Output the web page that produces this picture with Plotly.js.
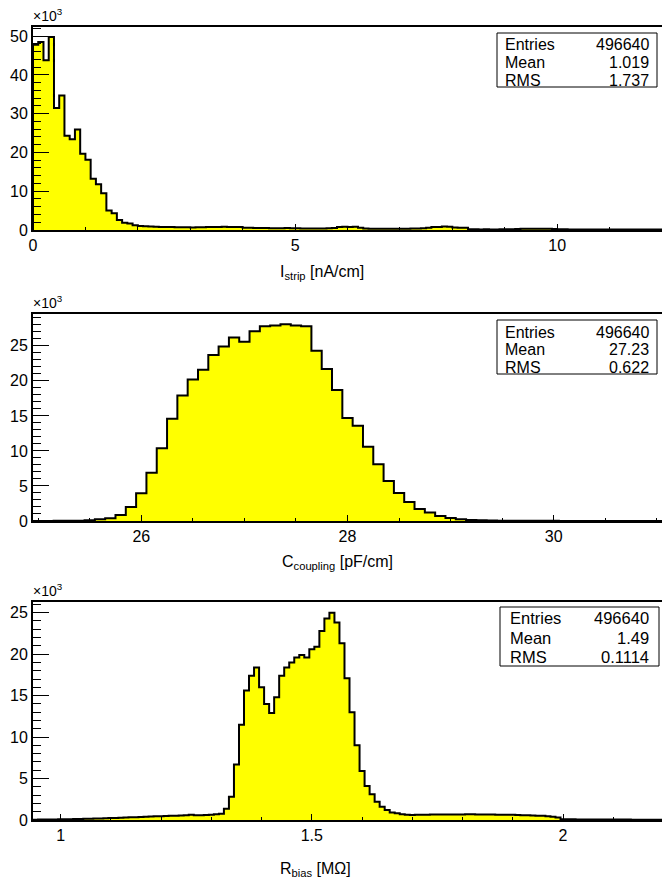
<!DOCTYPE html>
<html><head><meta charset="utf-8">
<script src="https://cdn.plot.ly/plotly-3.0.1.min.js"></script>
<style>html,body{margin:0;padding:0;background:#fff}</style>
</head><body><div id="chart" style="width:662px;height:882px"></div>
<script>
// ---------- DATA (counts in units of 10^3) ----------
const istripLow = 0, istripBinWidth = 0.1;
const istripCountsK = [
  47.8,48.5,43.8,49.8,31.5,34.7,24.3,23.4,25.9,19.7,
  18.1,13.2,11.8,9.5,5.0,4.3,2.6,1.9,1.7,1.2,
  1.0,0.95,0.9,0.85,0.8,0.75,0.75,0.7,0.7,0.7,
  0.65,0.7,0.7,0.75,0.8,0.8,0.85,0.8,0.8,0.75,
  0.6,0.55,0.5,0.5,0.5,0.45,0.45,0.45,0.5,0.45,
  0.45,0.4,0.4,0.4,0.4,0.4,0.45,0.5,0.8,0.85,
  0.75,0.85,0.6,0.4,0.35,0.3,0.3,0.35,0.3,0.3,
  0.35,0.35,0.4,0.4,0.45,0.55,0.75,0.8,0.9,0.85,
  0.65,0.6,0.55,0.2,0.2,0.15,0.2,0.15,0.15,0.2,
  0.2,0.2,0.25,0.3,0.3,0.35,0.35,0.3,0.3,0.25,
  0.2,0.2,0.15,0.15,0.15,0.12,0.12,0.12,0.1,0.1,
  0.1,0.1,0.1,0.1,0.1,0.1,0.1,0.1,0.1,0.1
];
const ccoupLow = 24.95, ccoupBinWidth = 0.1;
const ccoupCountsK = [
  0.01,0.01,0.02,0.03,0.05,0.10,0.24,0.40,0.86,2.0,
  3.95,6.9,10.4,14.6,17.9,20.2,21.6,23.7,24.9,26.2,
  25.6,27.1,27.8,27.9,28.1,27.9,27.8,24.3,21.7,18.7,
  14.7,13.6,10.6,8.1,5.7,4.0,2.7,1.7,1.2,0.7,
  0.43,0.24,0.14,0.09,0.06,0.05,0.04,0.03,0.03,0.02,
  0.02,0.01,0.01,0.01,0.01,0.01,0.01,0.01,0.01,0.01,0.01
];
const rbiasLow = 0.945, rbiasBinWidth = 0.01;
const rbiasCountsK = [
  0.04,0.05,0.05,0.06,0.07,
  0.08,0.09,0.10,0.11,0.12,0.14,0.15,0.17,0.19,0.21,
  0.23,0.25,0.27,0.30,0.32,0.34,0.37,0.39,0.42,0.44,
  0.46,0.48,0.50,0.52,0.54,0.56,0.62,0.58,0.58,0.60,
  0.62,0.70,0.75,1.37,2.80,6.70,11.5,15.6,17.4,18.4,
  16.0,14.0,12.9,14.8,17.4,18.4,19.0,19.6,19.9,19.6,
  20.6,20.9,22.8,24.3,25.0,23.8,21.3,17.1,13.0,9.0,
  5.9,4.1,3.1,2.2,1.6,1.2,0.9,0.8,0.7,0.62,
  0.60,0.62,0.64,0.64,0.65,0.66,0.66,0.66,0.66,0.67,
  0.67,0.68,0.68,0.66,0.66,0.65,0.65,0.64,0.63,0.62,
  0.62,0.60,0.58,0.56,0.55,0.52,0.50,0.46,0.40,0.30,
  0.10,0.08,0.08,0.07,0.07,0.06,0.06,0.06,0.05,0.05,
  0.05,0.05,0.05,0.05,0.04,0.04,0.04,0.04,0.04,0.04
];
const statLabels = ['Entries','Mean','RMS'];
const istripStats = ['496640','1.019','1.737'];
const ccoupStats = ['496640','27.23','0.622'];
const rbiasStats = ['496640','1.49','0.1114'];
const istripTitle = 'I<sub>strip</sub> [nA/cm]';
const ccoupTitle = 'C<sub>coupling</sub> [pF/cm]';
const rbiasTitle = 'R<sub>bias</sub> [MΩ]';
const yScaleLabel = '×10<sup>3</sup>';

// ---------- LAYOUT HELPERS ----------
const W = 662, H = 882, ML = 33, MR = 0;
const PW = W - ML - MR;
const px = v => (v - ML) / PW;
const py = v => 1 - v / H;
const FONT = 'Liberation Sans, Arial, Helvetica, sans-serif';

function stepTrace(low, width, vals, xa, ya) {
  const x = [low], y = [0];
  vals.forEach((v, i) => { x.push(low + i * width); y.push(v); });
  x.push(low + vals.length * width); y.push(0);
  return {type:'scatter', mode:'lines', x, y, xaxis:xa, yaxis:ya,
    line:{shape:'hv', color:'#000', width:2}, fill:'tozeroy', fillcolor:'#ffff00',
    hoverinfo:'skip', showlegend:false};
}

const panels = [
  {vals:istripCountsK, low:istripLow, w:istripBinWidth, top:27.3, bot:230, xr:[0,12], xd:5, xminor:1, yd:10, yminor:2,
   stats:istripStats, box:[497,33,657,87], rows:[45,62.7,80], lblx:503, valx:651, sfs:16,
   title:istripTitle, tx:278, ty:272},
  {vals:ccoupCountsK, low:ccoupLow, w:ccoupBinWidth, top:314.3, bot:521, xr:[24.95,31.05], xd:2, xminor:0.5, yd:5, yminor:1,
   stats:ccoupStats, box:[497,320,657,374], rows:[332,349.5,367], lblx:503, valx:651, sfs:16,
   title:ccoupTitle, tx:280, ty:562.5},
  {vals:rbiasCountsK, low:rbiasLow, w:rbiasBinWidth, top:602.3, bot:820, xr:[0.945,2.197], xd:0.5, xminor:0.1, yd:5, yminor:1,
   stats:rbiasStats, box:[500,607,659,666], rows:[618.3,638.3,657.3], lblx:508, valx:651, sfs:16.5,
   title:rbiasTitle, tx:278, ty:869}
];

const data = [], shapes = [], annotations = [];
const layout = {
  width:W, height:H, margin:{l:ML, r:MR, t:0, b:0},
  paper_bgcolor:'#fff', plot_bgcolor:'#fff', showlegend:false,
  font:{family:FONT, color:'#000'}
};

panels.forEach((p, i) => {
  const n = i === 0 ? '' : String(i + 1);
  const xa = 'x' + n, ya = 'y' + n;
  data.push(stepTrace(p.low, p.w, p.vals, xa, ya));
  const ymax = Math.max(...p.vals) * 1.05;
  layout['xaxis' + n] = {
    domain:[0,1], anchor:ya, range:p.xr, tick0:0, dtick:p.xd,
    ticks:'inside', ticklen:6, tickwidth:1, tickcolor:'#000',
    minor:{dtick:p.xminor, ticks:'inside', ticklen:3, tickwidth:1, tickcolor:'#000'},
    showline:true, linewidth:2, linecolor:'#000', mirror:true,
    showgrid:false, zeroline:false, tickfont:{size:16, family:FONT, color:'#000'}
  };
  layout['yaxis' + n] = {
    domain:[py(p.bot), py(p.top)], anchor:xa, range:[0, ymax], tick0:0, dtick:p.yd,
    ticks:'inside', ticklen:16, tickwidth:1, tickcolor:'#000',
    minor:{dtick:p.yminor, ticks:'inside', ticklen:8, tickwidth:1, tickcolor:'#000'},
    showline:true, linewidth:2, linecolor:'#000', mirror:false,
    showgrid:false, zeroline:false, tickfont:{size:16, family:FONT, color:'#000'}
  };
  // x10^3 label
  annotations.push({xref:'paper', yref:'paper', x:px(31), y:py(p.top - 1), xanchor:'left', yanchor:'bottom',
    text:yScaleLabel, showarrow:false, font:{size:14, family:FONT, color:'#000'}});
  // axis title
  annotations.push({xref:'paper', yref:'paper', x:px(p.tx), y:py(p.ty), xanchor:'left', yanchor:'middle',
    text:p.title, showarrow:false, font:{size:16, family:FONT, color:'#000'}});
  // stats box
  shapes.push({type:'rect', xref:'paper', yref:'paper', x0:px(p.box[0]), x1:px(p.box[2]), y0:py(p.box[3]), y1:py(p.box[1]),
    line:{color:'#000', width:1}, fillcolor:'#fff', layer:'above'});
  statLabels.forEach((lab, k) => {
    annotations.push({xref:'paper', yref:'paper', x:px(p.lblx), y:py(p.rows[k]), xanchor:'left', yanchor:'middle',
      text:lab, showarrow:false, font:{size:p.sfs, family:FONT, color:'#000'}});
    annotations.push({xref:'paper', yref:'paper', x:px(p.valx), y:py(p.rows[k]), xanchor:'right', yanchor:'middle',
      text:p.stats[k], showarrow:false, font:{size:p.sfs, family:FONT, color:'#000'}});
  });
});
layout.shapes = shapes;
layout.annotations = annotations;

Plotly.newPlot('chart', data, layout, {staticPlot:true, displayModeBar:false});
</script>
</body></html>
